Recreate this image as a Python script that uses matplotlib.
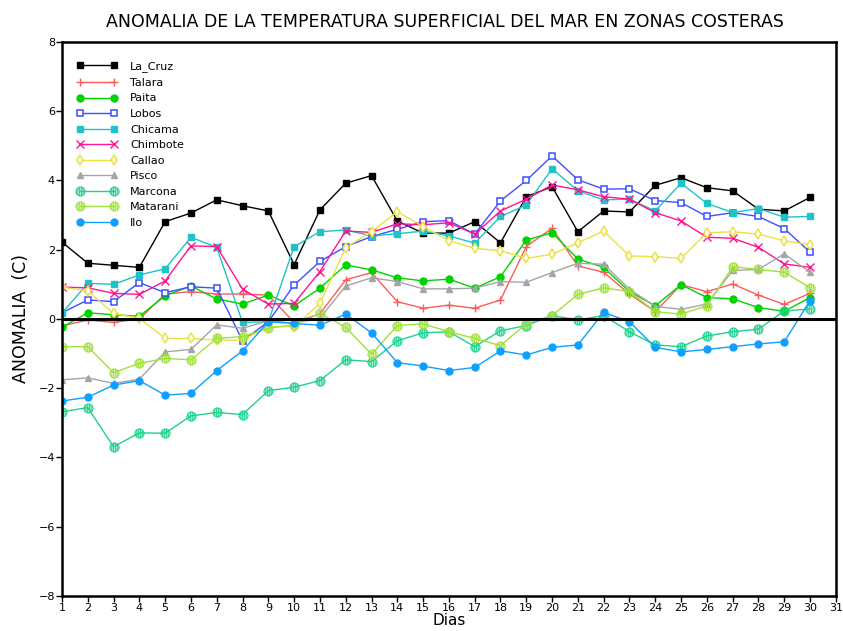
import numpy as np
import matplotlib
matplotlib.use("Agg")
import matplotlib.pyplot as plt

# Daily SST anomalies (C) per coastal station, days 1..30
days = np.arange(1, 31)

la_cruz = [2.22, 1.61, 1.55, 1.49, 2.81, 3.06, 3.44, 3.27, 3.12, 1.57,
           3.15, 3.92, 4.14, 2.83, 2.48, 2.48, 2.81, 2.20, 3.53, 3.82,
           2.52, 3.12, 3.09, 3.86, 4.08, 3.79, 3.70, 3.17, 3.12, 3.51]
talara = [-0.20, -0.03, -0.10, 0.00, 0.72, 0.79, 0.72, 0.72, 0.69, -0.10,
          0.15, 1.13, 1.34, 0.50, 0.31, 0.40, 0.31, 0.55, 2.09, 2.62,
          1.53, 1.35, 0.72, 0.21, 0.99, 0.79, 1.01, 0.69, 0.42, 0.74]
paita = [-0.24, 0.18, 0.12, 0.08, 0.67, 0.95, 0.58, 0.43, 0.69, 0.38,
         0.89, 1.56, 1.42, 1.19, 1.10, 1.15, 0.89, 1.22, 2.28, 2.49,
         1.73, 1.49, 0.79, 0.38, 0.99, 0.62, 0.58, 0.33, 0.22, 0.62]
lobos = [0.18, 0.55, 0.50, 1.05, 0.76, 0.93, 0.89, -0.63, -0.08, 0.98,
         1.66, 2.09, 2.38, 2.59, 2.81, 2.84, 2.45, 3.41, 4.00, 4.71,
         4.02, 3.75, 3.76, 3.42, 3.36, 2.96, 3.07, 2.96, 2.61, 1.93]
chicama = [0.17, 1.03, 1.00, 1.27, 1.45, 2.36, 2.07, -0.10, -0.08, 2.09,
           2.52, 2.57, 2.40, 2.46, 2.54, 2.40, 2.19, 2.96, 3.29, 4.34,
           3.70, 3.44, 3.46, 3.12, 3.92, 3.34, 3.07, 3.19, 2.94, 2.96]
chimbote = [0.92, 0.90, 0.74, 0.71, 1.10, 2.11, 2.09, 0.86, 0.43, 0.45,
            1.37, 2.54, 2.50, 2.75, 2.72, 2.78, 2.45, 3.12, 3.46, 3.87,
            3.73, 3.53, 3.46, 3.07, 2.83, 2.36, 2.33, 2.07, 1.59, 1.49]
callao = [0.92, 0.81, 0.16, 0.02, -0.56, -0.56, -0.61, -0.61, -0.22, -0.22,
          0.45, 2.06, 2.52, 3.10, 2.67, 2.26, 2.04, 1.97, 1.75, 1.87,
          2.20, 2.54, 1.82, 1.80, 1.75, 2.49, 2.52, 2.45, 2.26, 2.14]
pisco = [-1.76, -1.70, -1.86, -1.74, -0.95, -0.88, -0.17, -0.27, -0.05, -0.12,
         0.02, 0.95, 1.19, 1.08, 0.87, 0.87, 0.89, 1.08, 1.06, 1.34,
         1.61, 1.58, 0.86, 0.36, 0.28, 0.43, 1.40, 1.43, 1.88, 1.35]
marcona = [-2.68, -2.56, -3.69, -3.29, -3.30, -2.80, -2.70, -2.76, -2.07, -1.97,
           -1.78, -1.18, -1.23, -0.63, -0.40, -0.37, -0.80, -0.34, -0.19, 0.10,
           -0.03, 0.10, -0.37, -0.75, -0.80, -0.49, -0.37, -0.29, 0.23, 0.29]
matarani = [-0.80, -0.80, -1.55, -1.28, -1.14, -1.18, -0.56, -0.51, -0.27, -0.17,
            0.16, -0.24, -1.02, -0.19, -0.14, -0.37, -0.56, -0.77, -0.14, 0.10,
            0.71, 0.90, 0.79, 0.21, 0.14, 0.38, 1.51, 1.43, 1.35, 0.90]
ilo = [-2.37, -2.26, -1.91, -1.78, -2.20, -2.15, -1.49, -0.92, -0.08, -0.13,
       -0.18, 0.14, -0.40, -1.26, -1.36, -1.49, -1.40, -0.92, -1.04, -0.82,
       -0.75, 0.19, -0.08, -0.82, -0.95, -0.88, -0.80, -0.72, -0.66, 0.53]

stations = ["La_Cruz", "Talara", "Paita", "Lobos", "Chicama", "Chimbote",
            "Callao", "Pisco", "Marcona", "Matarani", "Ilo"]
series = [la_cruz, talara, paita, lobos, chicama, chimbote,
          callao, pisco, marcona, matarani, ilo]

# (color, marker, filled)
styles = [
    ("#000000", "s", True),
    ("#ff5a5a", "+", True),
    ("#00d200", "o", True),
    ("#3c50ff", "s", False),
    ("#1ec3c8", "s", True),
    ("#ff1493", "x", True),
    ("#ebe141", "d", False),
    ("#a5a5a5", "^", True),
    ("#1ed28c", "$\u25CD$", True),
    ("#a0e13c", "$\u25CD$", True),
    ("#0fa0ff", "o", True),
]

plt.rcParams['font.family'] = ['DejaVu Sans']

fig = plt.figure(figsize=(8.43, 6.31), dpi=100)
ax = fig.add_axes([0.0735, 0.0555, 0.918, 0.878])

for name, vals, (col, mk, filled) in zip(stations, series, styles):
    kw = dict(color=col, lw=1.0, marker=mk, markersize=5, label=name)
    if mk in ("+", "x"):
        kw.update(markersize=6, markeredgewidth=1.0)
    elif mk.startswith("$"):
        kw.update(markersize=7, markeredgewidth=0.3, markerfacecolor=col,
                  markeredgecolor=col)
    elif filled:
        kw.update(markerfacecolor=col, markeredgecolor=col)
    else:
        kw.update(markerfacecolor="white", markeredgecolor=col,
                  markeredgewidth=1.1)
    ax.plot(days, vals, **kw)

ax.axhline(0, color="black", lw=2.2, zorder=5)

ax.set_xlim(1, 31)
ax.set_ylim(-8, 8)
ax.set_xticks(np.arange(1, 32))
ax.set_yticks(np.arange(-8, 9, 2))
ax.tick_params(direction="out", length=4, width=1, labelsize=8, pad=1)
for sp in ax.spines.values():
    sp.set_linewidth(1.8)

ax.set_title("ANOMALIA DE LA TEMPERATURA SUPERFICIAL DEL MAR EN ZONAS COSTERAS",
             fontsize=12.5, pad=11, x=0.495)
ax.set_ylabel("ANOMALIA  (C)", fontsize=12.5, labelpad=6)
ax.set_xlabel("Dias", fontsize=11, labelpad=0)

leg = ax.legend(loc="upper left", frameon=False, fontsize=8, numpoints=2,
                handlelength=3.6, handletextpad=1.2, labelspacing=0.5,
                borderaxespad=0.6, bbox_to_anchor=(0.005, 0.985))

fig.savefig("out.png", dpi=100)
